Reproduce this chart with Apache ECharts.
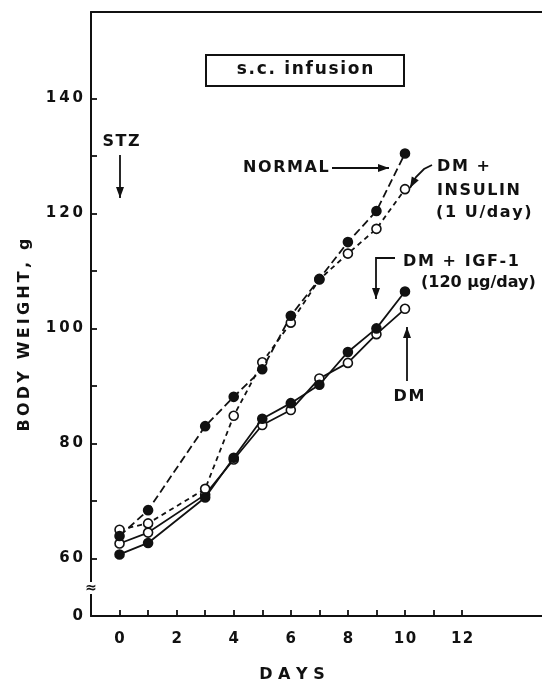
<!DOCTYPE html>
<html>
<head>
<meta charset="utf-8">
<script src="https://cdn.jsdelivr.net/npm/echarts@6/dist/echarts.min.js"></script>
<style>
  html, body { margin: 0; padding: 0; background: #fff; }
  #chart { width: 542px; height: 687px; }
</style>
</head>
<body>
<div id="chart"></div>
<script>
// days with measurements (no point on day 2)
const days = [0, 1, 3, 4, 5, 6, 7, 8, 9, 10]
const normal = [63.9, 68.4, 83.0, 88.1, 92.9, 102.2, 108.6, 115.0, 120.4, 130.4]
const dmInsulin = [65.0, 66.1, 72.1, 84.8, 94.1, 101.0, 108.5, 113.0, 117.3, 124.2]
const dmIgf = [60.7, 62.7, 70.6, 77.5, 84.3, 87.0, 90.2, 95.9, 100.0, 106.4]
const dm = [62.6, 64.5, 71.1, 77.2, 83.2, 85.8, 91.3, 94.0, 99.0, 103.4]

const xTicks = [0, 1, 2, 3, 4, 5, 6, 7, 8, 9, 10, 11, 12]
const xLabels = [0, 2, 4, 6, 8, 10, 12]
const yTicks = [60, 70, 80, 90, 100, 110, 120, 130, 140]
const yLabels = [50, 60, 80, 100, 120, 140] // 50 is the broken-axis "0"

const FONT = 'DejaVu Sans'
const BLACK = '#111'

function pairs(ys) {
  return ys.map((v, i) => [days[i], v])
}

function spaced(s, sp) {
  return String(s).split('').join(sp || '\u200a')
}

function series(name, ys, filled, dash) {
  return {
    name: name,
    type: 'line',
    data: pairs(ys),
    symbol: 'circle',
    symbolSize: 9,
    lineStyle: { color: BLACK, width: 1.8, type: dash },
    itemStyle: {
      color: filled ? BLACK : '#fff',
      borderColor: BLACK,
      borderWidth: 1.6
    },
    z: filled ? 3 : 2,
    animation: false
  }
}

// arrow: polyline + triangular head at last point
function arrow(points, head) {
  const n = points.length
  const [x1, y1] = points[n - 2]
  const [x2, y2] = points[n - 1]
  const a = Math.atan2(y2 - y1, x2 - x1)
  const len = head || 11, w = 4
  const bx = x2 - len * Math.cos(a), by = y2 - len * Math.sin(a)
  const tri = [
    [x2, y2],
    [bx + w * Math.sin(a), by - w * Math.cos(a)],
    [bx - w * Math.sin(a), by + w * Math.cos(a)]
  ]
  return [
    { type: 'polyline', shape: { points: points }, style: { stroke: BLACK, lineWidth: 1.8, fill: null } },
    { type: 'polygon', shape: { points: tri }, style: { fill: BLACK } }
  ]
}

function label(text, x, y, align, size, plain) {
  return {
    type: 'text', x: x, y: y,
    style: {
      text: plain ? text : spaced(text), fill: BLACK, font: 'bold ' + (size || 16) + 'px "' + FONT + '"',
      align: align || 'left', verticalAlign: 'middle'
    }
  }
}

const chart = echarts.init(document.getElementById('chart'))

chart.setOption({
  backgroundColor: '#fff',
  grid: { left: 91, right: -4, top: 12, bottom: 71 },
  xAxis: [{
    type: 'value',
    min: -1,
    max: 14.8,
    position: 'bottom',
    axisLine: { onZero: false, lineStyle: { color: BLACK, width: 2 } },
    axisTick: { inside: true, length: 6, customValues: xTicks, lineStyle: { color: BLACK, width: 1.8 } },
    axisLabel: {
      customValues: xLabels, margin: 16, color: BLACK,
      fontFamily: FONT, fontWeight: 'bold', fontSize: 15,
      formatter: v => spaced(v)
    },
    splitLine: { show: false }
  }, {
    type: 'value',
    min: -1,
    max: 14.8,
    position: 'top',
    axisLine: { show: true, onZero: false, lineStyle: { color: BLACK, width: 2 } },
    axisTick: { show: false },
    axisLabel: { show: false },
    splitLine: { show: false }
  }],
  yAxis: {
    type: 'value',
    min: 50,
    max: 155,
    position: 'left',
    axisLine: { show: true, onZero: false, lineStyle: { color: BLACK, width: 2 } },
    axisTick: { show: true, inside: true, length: 6, customValues: yTicks, lineStyle: { color: BLACK, width: 1.8 } },
    axisLabel: {
      customValues: yLabels, margin: 8, color: BLACK,
      fontFamily: FONT, fontWeight: 'bold', fontSize: 15,
      formatter: v => v === 50 ? '0' : spaced(v, '\u2009')
    },
    splitLine: { show: false }
  },
  series: [
    series('DM', dm, false, 'solid'),
    series('DM + IGF-1', dmIgf, true, 'solid'),
    series('DM + INSULIN', dmInsulin, false, [5, 4]),
    series('NORMAL', normal, true, [8, 4])
  ],
  graphic: [
    // axis break
    { type: 'rect', shape: { x: 85, y: 582, width: 12, height: 12 }, style: { fill: '#fff' }, z: 100 },
    { type: 'text', x: 91, y: 588, z: 101, style: { text: '\u2248', fill: BLACK, font: 'bold 14px "' + FONT + '"', align: 'center', verticalAlign: 'middle' } },
    // axis titles
    {
      type: 'text', x: 25, y: 335, rotation: Math.PI / 2,
      style: { text: spaced('BODY WEIGHT, g', '\u2009'), fill: BLACK, font: 'bold 16px "' + FONT + '"', align: 'center', verticalAlign: 'middle' }
    },
    {
      type: 'text', x: 292, y: 675,
      style: { text: 'D A Y S', fill: BLACK, font: 'bold 16px "' + FONT + '"', align: 'center', verticalAlign: 'middle' }
    },
    // boxed header
    { type: 'rect', shape: { x: 206, y: 55, width: 198, height: 31 }, style: { fill: '#fff', stroke: BLACK, lineWidth: 2 } },
    label('s.c. infusion', 305, 70, 'center', 17),
    // STZ
    label('STZ', 121, 142, 'center'),
    ...arrow([[120, 155], [120, 198]]),
    // NORMAL
    label('NORMAL', 243, 168, 'left'),
    ...arrow([[332, 168], [389, 168]]),
    // DM + INSULIN
    label('DM +', 437, 167, 'left'),
    label('INSULIN', 437, 191, 'left'),
    label('(1 U/day)', 436, 213, 'left'),
    ...arrow([[432, 165], [424, 169], [416, 177], [410, 188]]),
    // DM + IGF-1
    label('DM + IGF-1', 403, 262, 'left'),
    label('(120 \u03bcg/day)', 421, 283, 'left', 16, true),
    ...arrow([[395, 258], [376, 258], [376, 299]]),
    // DM
    label('DM', 409, 397, 'center'),
    ...arrow([[407, 381], [407, 327]])
  ]
})
</script>
</body>
</html>
